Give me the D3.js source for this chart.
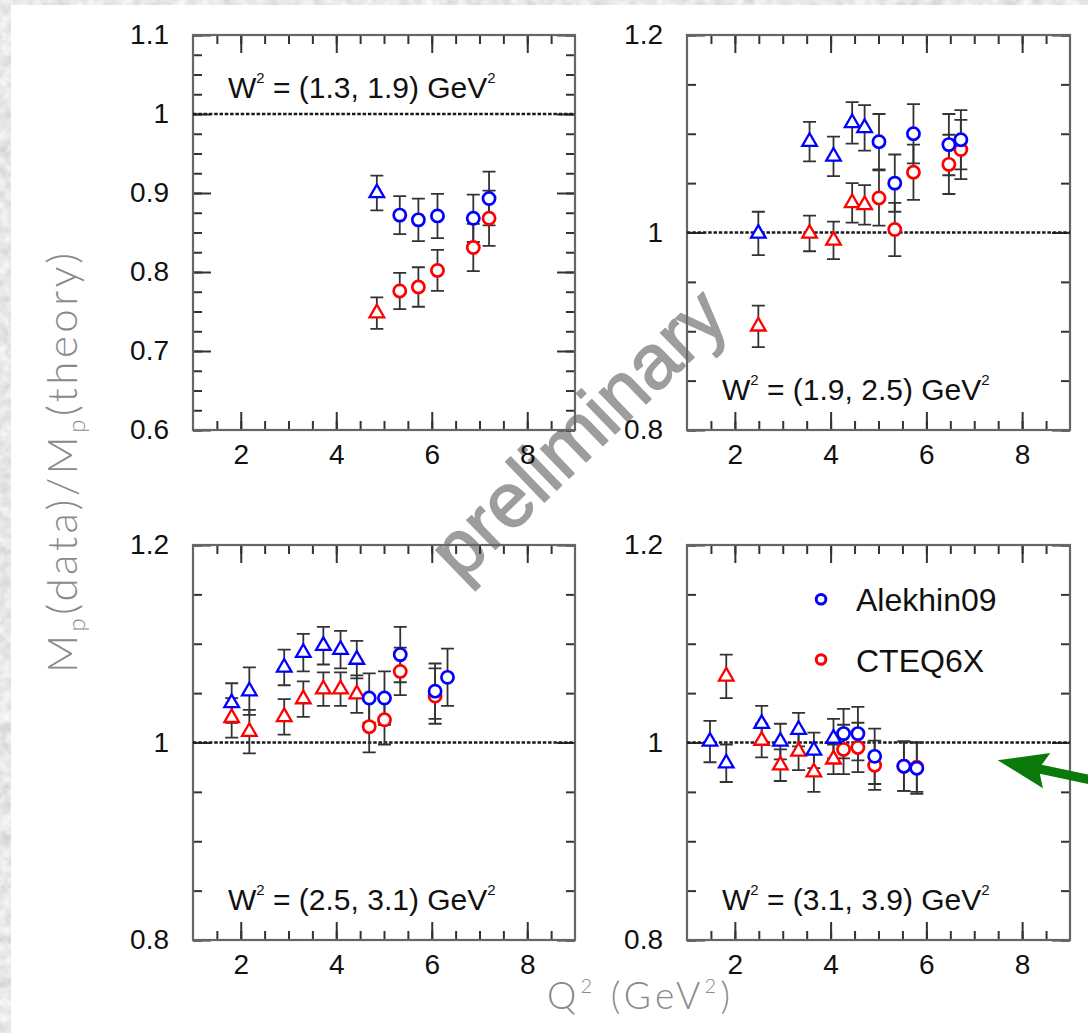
<!DOCTYPE html>
<html>
<head>
<meta charset="utf-8">
<script src="https://cdn.jsdelivr.net/npm/d3@7"></script>
<style>
  html, body { margin: 0; padding: 0; background: #fff; }
  svg { display: block; }
</style>
</head>
<body>
<div id="chart"></div>
<script>
// Ratio of measured to calculated proton moment, in four W² bins, vs Q².
// Rows are [Q² (GeV²), ratio, error]. Triangles and circles mark the two data sets.

const wBins = ["(1.3, 1.9)", "(1.9, 2.5)", "(2.5, 3.1)", "(3.1, 3.9)"];
const seriesNames = ["Alekhin09", "CTEQ6X"];

// W² = (1.3, 1.9)
const alekhinTri1 = [[4.85, 0.900, 0.022]];
const cteqTri1 = [[4.85, 0.748, 0.020]];
const alekhinCirc1 = [[5.33, 0.872, 0.024], [5.72, 0.866, 0.027], [6.12, 0.871, 0.028], [6.87, 0.868, 0.030], [7.20, 0.893, 0.034]];
const cteqCirc1 = [[5.33, 0.776, 0.023], [5.72, 0.781, 0.025], [6.12, 0.802, 0.026], [6.87, 0.831, 0.030], [7.20, 0.868, 0.035]];

// W² = (1.9, 2.5)
const alekhinTri2 = [[2.49, 0.999, 0.022], [3.56, 1.092, 0.020], [4.06, 1.077, 0.020], [4.45, 1.111, 0.021], [4.71, 1.106, 0.023]];
const cteqTri2 = [[2.49, 0.905, 0.021], [3.56, 0.999, 0.018], [4.06, 0.992, 0.019], [4.45, 1.030, 0.020], [4.71, 1.028, 0.020]];
const alekhinCirc2 = [[5.01, 1.092, 0.028], [5.34, 1.050, 0.029], [5.73, 1.100, 0.030], [6.47, 1.089, 0.031], [6.72, 1.094, 0.030]];
const cteqCirc2 = [[5.01, 1.035, 0.028], [5.34, 1.003, 0.027], [5.73, 1.061, 0.028], [6.47, 1.069, 0.030], [6.72, 1.084, 0.030]];

// W² = (2.5, 3.1)
const alekhinTri3 = [[1.81, 1.040, 0.020], [2.18, 1.052, 0.024], [2.91, 1.076, 0.018], [3.31, 1.091, 0.019], [3.73, 1.098, 0.019], [4.09, 1.094, 0.019], [4.43, 1.084, 0.019]];
const cteqTri3 = [[1.81, 1.025, 0.020], [2.18, 1.011, 0.022], [2.91, 1.026, 0.018], [3.31, 1.044, 0.018], [3.73, 1.054, 0.017], [4.09, 1.054, 0.017], [4.43, 1.049, 0.019]];
const alekhinCirc3 = [[4.69, 1.045, 0.025], [5.01, 1.045, 0.027], [5.34, 1.089, 0.028], [6.07, 1.052, 0.028], [6.33, 1.066, 0.029]];
const cteqCirc3 = [[4.69, 1.016, 0.026], [5.01, 1.023, 0.025], [5.34, 1.072, 0.024], [6.07, 1.047, 0.028]];

// W² = (3.1, 3.9)
const alekhinTri4 = [[1.48, 1.001, 0.021], [1.82, 0.979, 0.019], [2.56, 1.019, 0.018], [2.95, 1.001, 0.018], [3.33, 1.013, 0.017], [3.65, 0.992, 0.018], [4.06, 1.004, 0.020]];
const cteqTri4 = [[1.82, 1.067, 0.022], [2.56, 1.002, 0.017], [2.95, 0.977, 0.016], [3.33, 0.991, 0.019], [3.65, 0.970, 0.020], [4.06, 0.983, 0.015]];
const alekhinCirc4 = [[4.27, 1.009, 0.025], [4.57, 1.009, 0.027], [4.92, 0.986, 0.028], [5.53, 0.976, 0.025], [5.80, 0.974, 0.026]];
const cteqCirc4 = [[4.27, 0.993, 0.025], [4.57, 0.995, 0.025], [4.92, 0.977, 0.025], [5.53, 0.976, 0.025], [5.80, 0.975, 0.025]];

// Axis ranges and ticks
const xDomain = [1, 9];
const xMajorTicks = [2, 4, 6, 8];
const xMinorTicks = d3.range(1.5, 9, 0.5);
const yDomainLow = [0.6, 1.1];
const yMajorLow = [0.6, 0.7, 0.8, 0.9, 1.0, 1.1];
const yMinorLow = d3.range(0.6, 1.1001, 0.025);
const yDomainHigh = [0.8, 1.2];
const yMajorHigh = [0.8, 1.0, 1.2];
const yMinorHigh = d3.range(0.8, 1.2001, 0.05);

// Arrow pointing at the unity line in the last bin: [Q², ratio] for tip and tail
const arrowTip = [7.49, 0.982];
const arrowTail = [9.45, 0.962];

const W = 1088, H = 1033;
const FONT = "'Liberation Sans', Arial, Helvetica, sans-serif";
const BLUE = "#0000ff", RED = "#ff0000";

const svg = d3.select("#chart").append("svg")
  .attr("width", W).attr("height", H)
  .attr("viewBox", `0 0 ${W} ${H}`);

// Paper grain along the page border
const defs = svg.append("defs");
const grain = defs.append("filter").attr("id", "grain")
  .attr("x", 0).attr("y", 0).attr("width", "100%").attr("height", "100%");
grain.append("feTurbulence").attr("type", "fractalNoise")
  .attr("baseFrequency", 0.09).attr("numOctaves", 4).attr("seed", 7);
grain.append("feColorMatrix").attr("type", "matrix")
  .attr("values", "0.45 0 0 0 0.58  0.45 0 0 0 0.58  0.45 0 0 0 0.58  0 0 0 0 1");
svg.append("rect").attr("width", W).attr("height", H).attr("filter", "url(#grain)");
svg.append("rect").attr("x", 11).attr("y", 5).attr("width", W - 11).attr("height", H - 5).attr("fill", "#fff");

const panels = [
  { box: [193, 575, 35, 430], yDom: yDomainLow, yMajor: yMajorLow, yMinor: yMinorLow, label: wBins[0], labelTop: true,
    aTri: alekhinTri1, cTri: cteqTri1, aCirc: alekhinCirc1, cCirc: cteqCirc1 },
  { box: [687, 1070, 35, 430], yDom: yDomainHigh, yMajor: yMajorHigh, yMinor: yMinorHigh, label: wBins[1], labelTop: false,
    aTri: alekhinTri2, cTri: cteqTri2, aCirc: alekhinCirc2, cCirc: cteqCirc2 },
  { box: [193, 575, 545, 940], yDom: yDomainHigh, yMajor: yMajorHigh, yMinor: yMinorHigh, label: wBins[2], labelTop: false,
    aTri: alekhinTri3, cTri: cteqTri3, aCirc: alekhinCirc3, cCirc: cteqCirc3 },
  { box: [687, 1070, 545, 940], yDom: yDomainHigh, yMajor: yMajorHigh, yMinor: yMinorHigh, label: wBins[3], labelTop: false,
    aTri: alekhinTri4, cTri: cteqTri4, aCirc: alekhinCirc4, cCirc: cteqCirc4, legend: true, arrow: true }
];

// Watermark sits beneath the data
svg.append("text")
  .attr("transform", "translate(596,452) rotate(-44)")
  .attr("text-anchor", "middle")
  .attr("font-family", FONT).attr("font-size", 77)
  .attr("fill", "#9d9d9d").attr("stroke", "#9d9d9d").attr("stroke-width", 1.6)
  .attr("stroke-linejoin", "round")
  .text("preliminary");

const yFmt = d => (Math.abs(d - 1) < 1e-9 ? "1" : d.toFixed(1));
const triangle = d3.symbol().type(d3.symbolTriangle).size(92);

function styleAxis(g) {
  g.select(".domain").remove();
  g.selectAll(".tick line").attr("stroke", "#333").attr("stroke-width", 2);
  g.selectAll(".tick text").attr("font-family", FONT).attr("font-size", 28).attr("fill", "#111");
}

panels.forEach(p => {
  const [x0, x1, y0, y1] = p.box;
  const x = d3.scaleLinear().domain(xDomain).range([x0, x1]);
  const y = d3.scaleLinear().domain(p.yDom).range([y1, y0]);
  const g = svg.append("g");

  // minor ticks on all four sides
  g.append("g").attr("transform", `translate(0,${y1})`)
    .call(d3.axisBottom(x).tickValues(xMinorTicks).tickSize(-9).tickFormat("")).call(styleAxis);
  g.append("g").attr("transform", `translate(0,${y0})`)
    .call(d3.axisTop(x).tickValues(xMinorTicks).tickSize(-9).tickFormat("")).call(styleAxis);
  g.append("g").attr("transform", `translate(${x0},0)`)
    .call(d3.axisLeft(y).tickValues(p.yMinor).tickSize(-9).tickFormat("")).call(styleAxis);
  g.append("g").attr("transform", `translate(${x1},0)`)
    .call(d3.axisRight(y).tickValues(p.yMinor).tickSize(-9).tickFormat("")).call(styleAxis);

  // major ticks, labelled on bottom and left
  g.append("g").attr("transform", `translate(0,${y1})`)
    .call(d3.axisBottom(x).tickValues(xMajorTicks).tickSize(-18).tickPadding(14).tickFormat(d3.format("d"))).call(styleAxis);
  g.append("g").attr("transform", `translate(0,${y0})`)
    .call(d3.axisTop(x).tickValues(xMajorTicks).tickSize(-18).tickFormat("")).call(styleAxis);
  g.append("g").attr("transform", `translate(${x0},0)`)
    .call(d3.axisLeft(y).tickValues(p.yMajor).tickSize(-18).tickPadding(24).tickFormat(yFmt)).call(styleAxis);
  g.append("g").attr("transform", `translate(${x1},0)`)
    .call(d3.axisRight(y).tickValues(p.yMajor).tickSize(-18).tickFormat("")).call(styleAxis);

  // frame
  g.append("rect").attr("x", x0).attr("y", y0).attr("width", x1 - x0).attr("height", y1 - y0)
    .attr("fill", "none").attr("stroke", "#666").attr("stroke-width", 2.2);

  // unity line
  g.append("line").attr("x1", x0).attr("x2", x1).attr("y1", y(1)).attr("y2", y(1))
    .attr("stroke", "#1a1a1a").attr("stroke-width", 2.6).attr("stroke-dasharray", "3.5,1.8");

  // bin label
  const lab = g.append("text")
    .attr("x", x0 + 35)
    .attr("y", p.labelTop ? y0 + 63 : y1 - 30)
    .attr("font-family", FONT).attr("font-size", 30).attr("fill", "#111");
  lab.append("tspan").text("W");
  lab.append("tspan").attr("font-size", 15).attr("dy", -15).text("2");
  lab.append("tspan").attr("dy", 15).text(` = ${p.label} GeV`);
  lab.append("tspan").attr("font-size", 15).attr("dy", -15).text("2");

  // error bars
  const rows = [...p.cTri, ...p.cCirc, ...p.aTri, ...p.aCirc];
  const eb = g.append("g").attr("stroke", "#333").attr("stroke-width", 1.8).attr("fill", "none");
  eb.selectAll("path").data(rows).join("path")
    .attr("d", d => {
      const cx = x(d[0]), lo = y(d[1] - d[2]), hi = y(d[1] + d[2]), c = 6.5;
      return `M${cx},${lo}V${hi}M${cx - c},${lo}H${cx + c}M${cx - c},${hi}H${cx + c}`;
    });

  // markers: CTEQ6X below, Alekhin09 on top
  [[p.cTri, p.cCirc, RED], [p.aTri, p.aCirc, BLUE]].forEach(([tri, circ, col]) => {
    g.append("g").selectAll("path").data(tri).join("path")
      .attr("transform", d => `translate(${x(d[0])},${y(d[1])})`)
      .attr("d", triangle)
      .attr("fill", "#fff").attr("stroke", col).attr("stroke-width", 2.3);
    g.append("g").selectAll("circle").data(circ).join("circle")
      .attr("cx", d => x(d[0])).attr("cy", d => y(d[1])).attr("r", 6.1)
      .attr("fill", "#fff").attr("stroke", col).attr("stroke-width", 2.7);
  });

  if (p.legend) {
    const lg = g.append("g");
    [[BLUE, seriesNames[0], 1.145], [RED, seriesNames[1], 1.084]].forEach(([col, name, v]) => {
      lg.append("circle").attr("cx", x(3.8)).attr("cy", y(v)).attr("r", 4.8)
        .attr("fill", "#fff").attr("stroke", col).attr("stroke-width", 3);
      lg.append("text").attr("x", x(4.53)).attr("y", y(v) + 12)
        .attr("font-family", FONT).attr("font-size", 32).attr("fill", "#111").text(name);
    });
  }

  if (p.arrow) {
    const tip = [x(arrowTip[0]), y(arrowTip[1])];
    const tail = [x(arrowTail[0]), y(arrowTail[1])];
    const dx = tail[0] - tip[0], dy = tail[1] - tip[1];
    const L = Math.hypot(dx, dy), ux = dx / L, uy = dy / L, nx = -uy, ny = ux;
    const headLen = 50, headHalf = 18, shaft = 4.6;
    const bx = tip[0] + ux * headLen, by = tip[1] + uy * headLen;
    const arrowPath = d3.path();
    arrowPath.moveTo(tip[0], tip[1]);
    arrowPath.lineTo(bx + nx * headHalf, by + ny * headHalf);
    arrowPath.lineTo(bx - ux * 6 + nx * shaft, by - uy * 6 + ny * shaft);
    arrowPath.lineTo(tail[0] + nx * shaft, tail[1] + ny * shaft);
    arrowPath.lineTo(tail[0] - nx * shaft, tail[1] - ny * shaft);
    arrowPath.lineTo(bx - ux * 6 - nx * shaft, by - uy * 6 - ny * shaft);
    arrowPath.lineTo(bx - nx * headHalf, by - ny * headHalf);
    arrowPath.closePath();
    svg.append("path").attr("d", arrowPath.toString()).attr("fill", "#0b7a0b");
  }
});

// Axis titles
const yTitle = svg.append("text")
  .attr("transform", "translate(77,463) rotate(-90)")
  .attr("text-anchor", "middle")
  .attr("font-family", "Lato, 'Open Sans', " + FONT).attr("font-weight", 300)
  .attr("font-size", 42).attr("fill", "#8a8a8a")
  .attr("textLength", 420).attr("lengthAdjust", "spacing");
yTitle.append("tspan").text("M");
yTitle.append("tspan").attr("font-size", 24).attr("dy", 8).text("p");
yTitle.append("tspan").attr("dy", -8).text("(data)/M");
yTitle.append("tspan").attr("font-size", 24).attr("dy", 8).text("p");
yTitle.append("tspan").attr("dy", -8).text("(theory)");

const xTitle = svg.append("text")
  .attr("x", 547).attr("y", 1009)
  .attr("font-family", "Lato, 'Open Sans', " + FONT).attr("font-weight", 300)
  .attr("font-size", 37).attr("fill", "#8a8a8a")
  .attr("textLength", 183).attr("lengthAdjust", "spacing");
xTitle.append("tspan").text("Q");
xTitle.append("tspan").attr("font-size", 20).attr("dy", -16).text("2");
xTitle.append("tspan").attr("dy", 16).text(" (GeV");
xTitle.append("tspan").attr("font-size", 20).attr("dy", -16).text("2");
xTitle.append("tspan").attr("dy", 16).text(")");
</script>
</body>
</html>
